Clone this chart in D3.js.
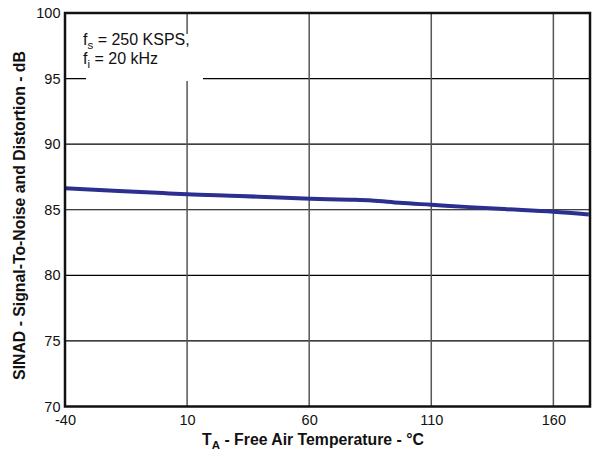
<!DOCTYPE html>
<html><head><meta charset="utf-8">
<script src="https://cdn.jsdelivr.net/npm/d3@7"></script>
<style>body{margin:0;background:#fff}svg{display:block;font-family:"Liberation Sans",Arial,sans-serif}</style>
</head><body><svg id="c" width="595" height="455"></svg>
<script>
const temps = [-40, -20, 0, 10, 31.5, 45, 60.5, 76.5, 85.5, 97, 110, 125.5, 140, 160, 174.5];
const sinad = [86.63, 86.45, 86.27, 86.18, 86.05, 85.95, 85.84, 85.77, 85.71, 85.53, 85.38, 85.2, 85.05, 84.85, 84.64];
const xTicks = [-40, 10, 60, 110, 160];
const yTicks = [70, 75, 80, 85, 90, 95, 100];

const svg = d3.select("#c");
const m = {l:65, r:590, t:13, b:406.5};
const x = d3.scaleLinear().domain([-40, 175]).range([m.l, m.r]);
const y = d3.scaleLinear().domain([70, 100]).range([m.b, m.t]);

// gridlines
svg.append("g").selectAll("line").data(yTicks.slice(1, -1)).join("line")
  .attr("x1", m.l).attr("x2", m.r).attr("y1", d => y(d)).attr("y2", d => y(d))
  .attr("stroke", "#000").attr("stroke-width", 1.2);
svg.append("g").selectAll("line").data(xTicks.slice(1)).join("line")
  .attr("y1", m.t).attr("y2", m.b).attr("x1", d => x(d)).attr("x2", d => x(d))
  .attr("stroke", "#555").attr("stroke-width", 1.5);

// label box
svg.append("rect").attr("x", 86).attr("y", 34).attr("width", 117).attr("height", 47).attr("fill", "#fff");
const t1 = svg.append("text").attr("x", 83).attr("y", 45).attr("font-size", 16).attr("fill", "#111");
t1.append("tspan").text("f");
t1.append("tspan").attr("font-size", 11.5).attr("dy", 4).text("s");
t1.append("tspan").attr("dy", -4).text(" = 250 KSPS,");
const t2 = svg.append("text").attr("x", 83).attr("y", 64).attr("font-size", 16).attr("fill", "#111");
t2.append("tspan").text("f");
t2.append("tspan").attr("font-size", 11.5).attr("dy", 4).text("i");
t2.append("tspan").attr("dy", -4).text(" = 20 kHz");

// data line
const line = d3.line().x((d, i) => x(temps[i])).y(d => y(d)).curve(d3.curveMonotoneX);
svg.append("path").datum(sinad).attr("d", line).attr("fill", "none")
  .attr("stroke", "#2b2f8f").attr("stroke-width", 4);

// frame
svg.append("rect").attr("x", m.l).attr("y", m.t).attr("width", m.r - m.l).attr("height", m.b - m.t)
  .attr("fill", "none").attr("stroke", "#111").attr("stroke-width", 2.5);

// axes (labels only)
const xa = svg.append("g").attr("transform", `translate(0,${m.b})`)
  .call(d3.axisBottom(x).tickValues(xTicks).tickSize(0).tickPadding(8).tickFormat(d => String(d)));
xa.select(".domain").remove();
xa.selectAll("text").attr("font-size", 14.5).attr("fill", "#111").attr("font-family", "Liberation Sans, Arial, sans-serif");

const ya = svg.append("g").attr("transform", `translate(${m.l},0)`)
  .call(d3.axisLeft(y).tickValues(yTicks).tickSize(0).tickPadding(4.5).tickFormat(d => String(d)));
ya.select(".domain").remove();
ya.selectAll("text").attr("font-size", 14.5).attr("fill", "#111").attr("font-family", "Liberation Sans, Arial, sans-serif");

// axis titles
const xt = svg.append("text").attr("x", 313).attr("y", 445).attr("text-anchor", "middle")
  .attr("font-size", 15.8).attr("font-weight", "bold").attr("fill", "#111");
xt.append("tspan").text("T");
xt.append("tspan").attr("font-size", 11.5).attr("dy", 4).text("A");
xt.append("tspan").attr("dy", -4).text(" - Free Air Temperature - °C");

svg.append("text").attr("transform", "translate(25,215.5) rotate(-90)").attr("text-anchor", "middle")
  .attr("font-size", 15.8).attr("font-weight", "bold").attr("fill", "#111")
  .text("SINAD - Signal-To-Noise and Distortion - dB");
</script></body></html>
